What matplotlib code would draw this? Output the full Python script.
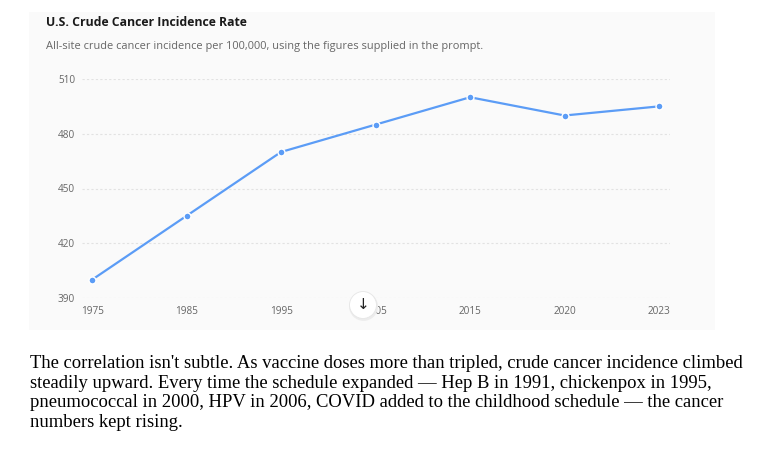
import matplotlib
matplotlib.use("Agg")
import matplotlib.pyplot as plt
from matplotlib.patches import Rectangle, Circle

# data
years = ["1975", "1985", "1995", "2005", "2015", "2020", "2023"]
incidence = [400, 435, 470, 485, 500, 490, 495]
y_ticks = [390, 420, 450, 480, 510]

title = "U.S. Crude Cancer Incidence Rate"
subtitle = "All-site crude cancer incidence per 100,000, using the figures supplied in the prompt."
caption = ("The correlation isn't subtle. As vaccine doses more than tripled, crude cancer incidence climbed\n"
           "steadily upward. Every time the schedule expanded \u2014 Hep B in 1991, chickenpox in 1995,\n"
           "pneumococcal in 2000, HPV in 2006, COVID added to the childhood schedule \u2014 the cancer\n"
           "numbers kept rising.")

W, H = 771, 458
fig = plt.figure(figsize=(W / 100, H / 100), dpi=100)
fig.patch.set_facecolor("white")

def fx(px):
    return px / W

def fy(py):
    return 1 - py / H

# light card behind the chart
fig.patches.append(Rectangle((fx(29), fy(330)), fx(715) - fx(29), fy(12) - fy(330),
                             transform=fig.transFigure, facecolor="#fafafa",
                             edgecolor="none", zorder=-5))

ax = fig.add_axes([fx(82), fy(298), fx(670) - fx(82), fy(79) - fy(298)])
ax.set_facecolor("none")

x = list(range(len(years)))
ax.plot(x, incidence, color="#5b9cf6", lw=1.6, marker="o", ms=5,
        mfc="#5b9cf6", mec="white", mew=1.0, zorder=3)

ax.set_ylim(390, 510)
ax.set_xlim(-0.106, len(years) - 1 + 0.116)
ax.set_yticks(y_ticks)
ax.set_xticks(x)
ax.set_xticklabels(years)
ax.tick_params(length=0, labelsize=7.2, labelcolor="#666666")
ax.tick_params(axis="y", pad=5)
ax.tick_params(axis="x", pad=6)
for lab in ax.get_xticklabels() + ax.get_yticklabels():
    lab.set_fontfamily("Open Sans")
ax.grid(axis="y", color="#e2e2e2", linestyle=(0, (2, 2)), lw=0.8)
for s in ax.spines.values():
    s.set_visible(False)

fig.text(fx(46), fy(22), title, fontsize=8.8, fontweight="bold", family="Open Sans",
         color="#1a1a1a", va="center", ha="left")
fig.text(fx(46), fy(46), subtitle, fontsize=7.9, family="Open Sans",
         color="#666666", va="center", ha="left")

# scroll-down button from the screenshot
ax_btn = fig.add_axes([fx(346), fy(322), fx(380) - fx(346), fy(288) - fy(322)])
ax_btn.set_xlim(-1.2, 1.2)
ax_btn.set_ylim(-1.2, 1.2)
ax_btn.set_aspect("equal")
ax_btn.axis("off")
ax_btn.add_patch(Circle((0.04, -0.1), 1.02, facecolor="#ececec", edgecolor="none"))
ax_btn.add_patch(Circle((0, 0), 0.95, facecolor="white", edgecolor="#e6e6e6", lw=0.6))
ax_btn.text(0, 0.02, "\u2193", ha="center", va="center", fontsize=11, color="#222222",
            family="DejaVu Sans")

fig.text(fx(30), fy(355), caption, fontsize=13.4, family="Liberation Serif",
         color="black", va="top", ha="left", linespacing=1.2)

fig.savefig("out.png", dpi=100, facecolor="white")
